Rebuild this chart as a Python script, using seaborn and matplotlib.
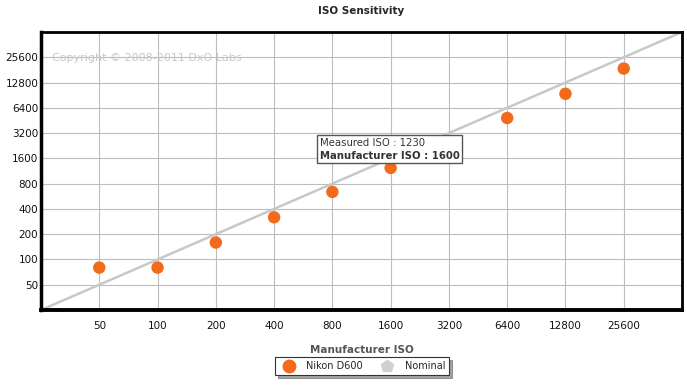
import matplotlib
matplotlib.use("Agg")
import matplotlib.pyplot as plt
import matplotlib.ticker as mticker
from matplotlib.lines import Line2D
import seaborn as sns
import pandas as pd

# ── Data ──────────────────────────────────────────────────
manufacturer_iso = [50, 100, 200, 400, 800, 1600, 6400, 12800, 25600]
measured_iso     = [80, 80, 159, 318, 638, 1230, 4840, 9400, 18800]
nominal_iso      = [25, 51200]
tick_values      = [50, 100, 200, 400, 800, 1600, 3200, 6400, 12800, 25600]

ORANGE = "#F26A1B"
LINE_CLR = "#C8C8C8"
GRID_CLR = "#BDBDBD"

sns.set_style("white")
plt.rcParams["font.family"] = ["DejaVu Sans"]

df = pd.DataFrame({"manufacturer": manufacturer_iso, "measured": measured_iso})
nom = pd.DataFrame({"x": nominal_iso, "y": nominal_iso})

W, H = 687, 386
fig = plt.figure(figsize=(6.87, 3.86), dpi=100)
ax = fig.add_axes([41 / W, 1 - 310 / H, (682 - 41) / W, (310 - 32) / H])

ax.set_xscale("log", base=2)
ax.set_yscale("log", base=2)
ax.set_xlim(25, 51200)
ax.set_ylim(25, 51200)

sns.lineplot(data=nom, x="x", y="y", color=LINE_CLR, lw=1.8, ax=ax, zorder=2)
sns.scatterplot(data=df, x="manufacturer", y="measured", color=ORANGE,
                s=80, edgecolor="none", ax=ax, zorder=3)

ax.set_xticks(tick_values)
ax.set_yticks(tick_values)
ax.xaxis.set_major_formatter(mticker.FuncFormatter(lambda v, _: f"{v:.0f}"))
ax.yaxis.set_major_formatter(mticker.FuncFormatter(lambda v, _: f"{v:.0f}"))
ax.xaxis.set_minor_locator(mticker.NullLocator())
ax.yaxis.set_minor_locator(mticker.NullLocator())
ax.tick_params(labelsize=7.5, length=0, colors="#111111")
ax.tick_params(axis="y", pad=2)
ax.tick_params(axis="x", pad=8)
ax.grid(True, color=GRID_CLR, lw=0.8, zorder=0)
ax.set_axisbelow(True)

for side, w in [("left", 2.5), ("bottom", 2.8), ("top", 2), ("right", 2)]:
    ax.spines[side].set_visible(True)
    ax.spines[side].set_color("black")
    ax.spines[side].set_linewidth(w)

ax.set_xlabel("Manufacturer ISO", fontsize=7.5, fontweight="bold", color="#555555", labelpad=10)
ax.set_ylabel("")
ax.set_title("ISO Sensitivity", fontsize=7.5, fontweight="bold", pad=13)

ax.text(0.017, 0.907, "Copyright © 2008-2011 DxO Labs", transform=ax.transAxes,
        fontsize=8, color="#C8C8C8", va="center", zorder=1)

# tooltip box
tip = plt.Rectangle((317 / W, 1 - 163 / H), 145 / W, 28 / H,
                    transform=fig.transFigure, fc="white", ec="#555555", lw=1, zorder=4)
ax.add_patch(tip)
ax.text(320 / W, 1 - 143 / H, "Measured ISO : 1230", transform=fig.transFigure,
        fontsize=7.3, color="#333333", ha="left", va="center", zorder=5)
ax.text(320 / W, 1 - 156 / H, "Manufacturer ISO : 1600", transform=fig.transFigure,
        fontsize=7.3, color="#333333", fontweight="bold", ha="left", va="center", zorder=5)

handles = [
    Line2D([], [], marker="o", ls="none", color=ORANGE, markersize=9, label="Nikon D600"),
    Line2D([], [], marker="p", ls="none", color="#D0D0D0", markersize=9, label="Nominal"),
]
leg = fig.legend(handles=handles, loc="center", bbox_to_anchor=(362 / W, 1 - 366 / H),
                 ncol=2, fontsize=7, frameon=True, fancybox=False, shadow=True,
                 handletextpad=0.8, columnspacing=1.5, borderpad=0.4)
leg.get_frame().set_edgecolor("#333333")
leg.get_frame().set_linewidth(0.8)

fig.savefig("out.png", dpi=100)
